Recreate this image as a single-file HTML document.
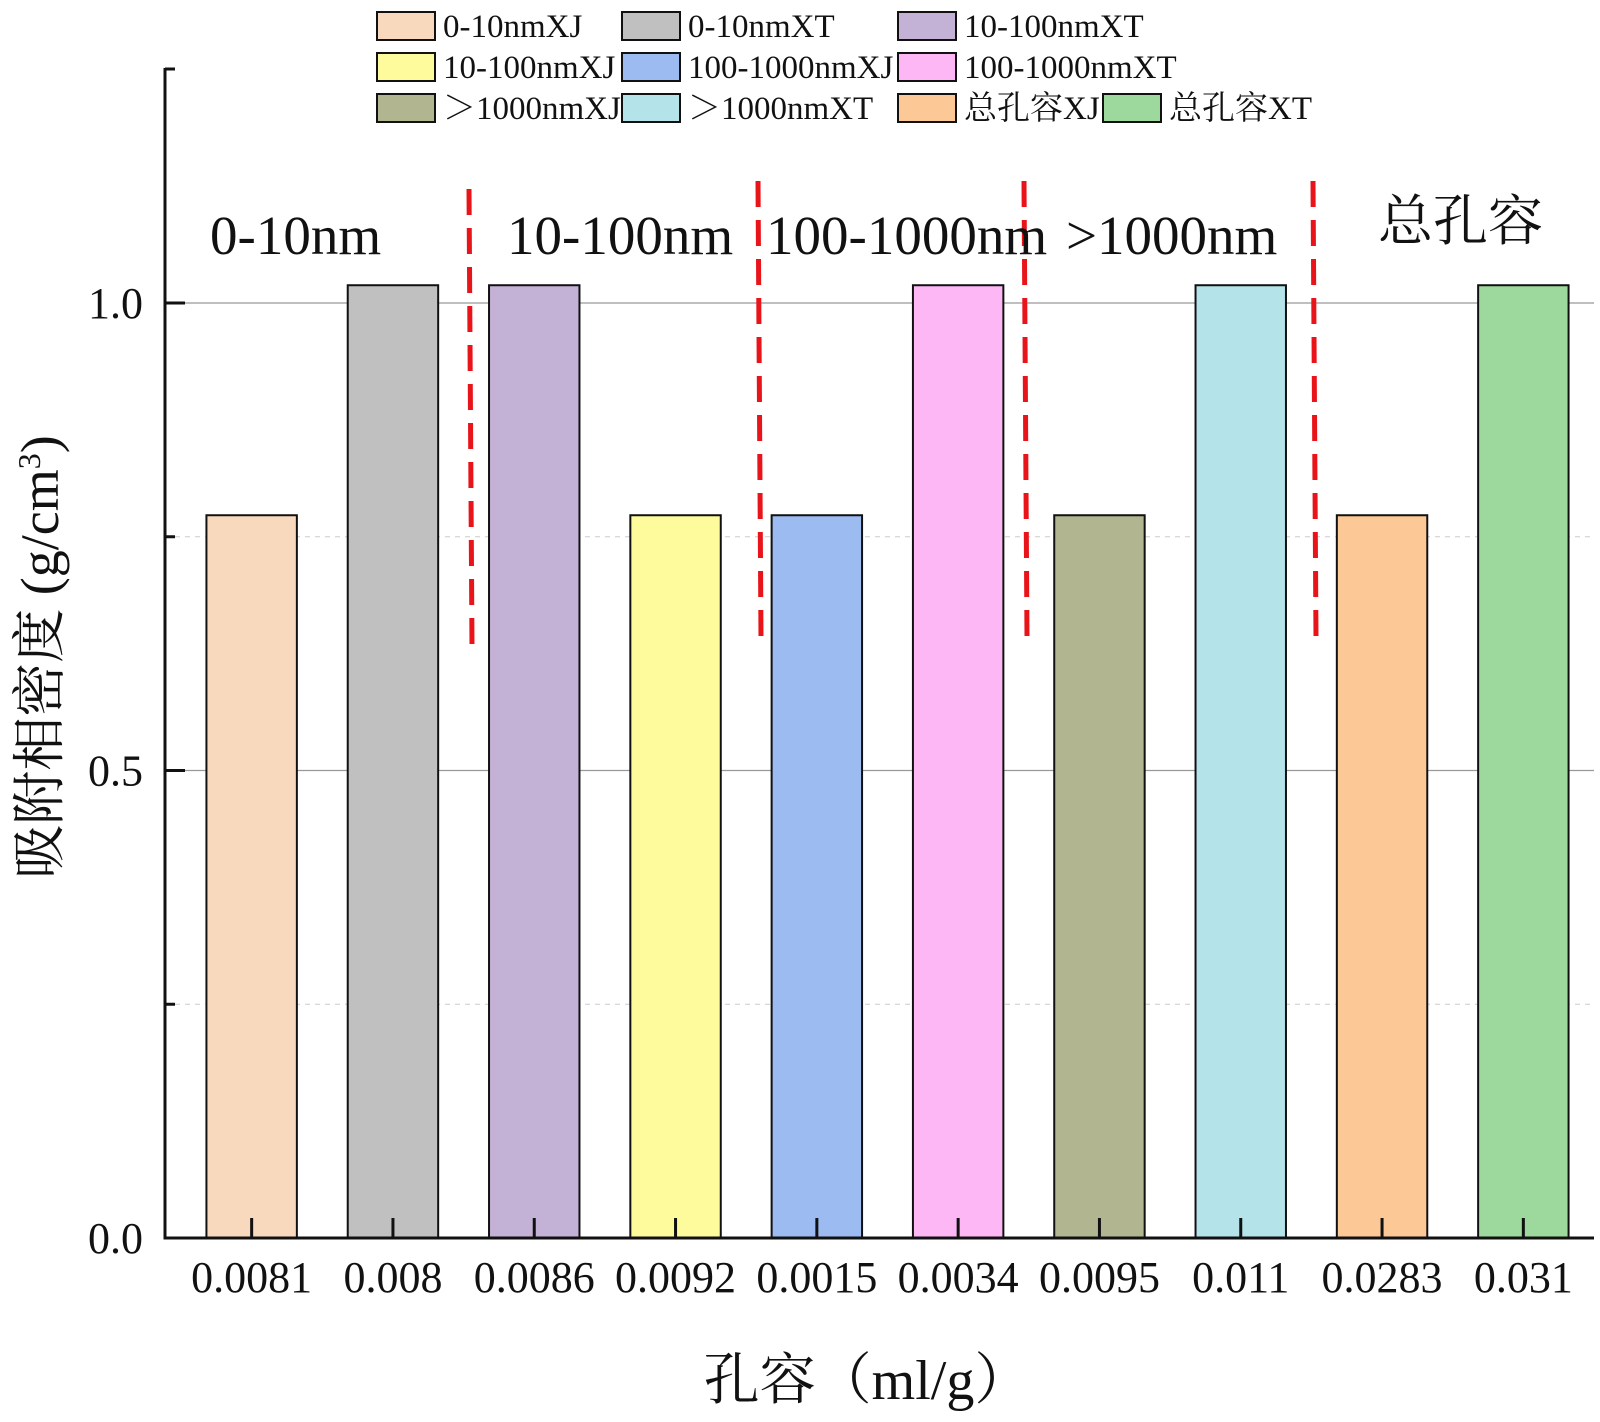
<!DOCTYPE html>
<html><head><meta charset="utf-8"><style>
body{margin:0;background:#fff}
svg text{font-family:"Liberation Serif","Noto Serif CJK SC",serif;fill:#111}
</style></head><body>
<svg id="c" width="1600" height="1417" xmlns="http://www.w3.org/2000/svg"></svg>
<script>
const categories=["0.0081","0.008","0.0086","0.0092","0.0015","0.0034","0.0095","0.011","0.0283","0.031"];
const values=[0.773,1.019,1.019,0.773,0.773,1.019,0.773,1.019,0.773,1.019];
const seriesNames=["0-10nmXJ","0-10nmXT","10-100nmXT","10-100nmXJ","100-1000nmXJ","100-1000nmXT",">1000nmXJ",">1000nmXT","总孔容XJ","总孔容XT"];
const colors=["#f9d9bd","#c0c0c0","#c4b2d6","#fdfb9c","#9cbbf1","#fdb7f5","#b1b690","#b4e3e9","#fbc896","#9dd89c"];
const yTicks=[0,0.5,1.0];
const yTickLabels=["0.0","0.5","1.0"];
const yMinor=[0.25,0.75];
const groupLabels=["0-10nm","10-100nm","100-1000nm",">1000nm","总孔容"];
const groupLabelX=[210,507,766,1066,1378];
const sepX=[469,758,1024,1313];

const NS="http://www.w3.org/2000/svg",svg=document.getElementById('c');
function el(t,a,txt){const e=document.createElementNS(NS,t);for(const k in a)e.setAttribute(k,a[k]);if(txt!=null)e.textContent=txt;svg.appendChild(e);return e;}
const X0=181,BW=141.3,BASE=1238,UNIT=935;
const xc=i=>X0+BW*(i+0.5);
const y=v=>BASE-v*UNIT;
yTicks.forEach(v=>{if(v>0){const g=el('line',{x1:165,x2:1594,y1:y(v),y2:y(v),stroke:'#999','stroke-width':1.2});
}});
yMinor.forEach(v=>{const g=el('line',{x1:165,x2:1594,y1:y(v),y2:y(v),stroke:'#ccc','stroke-width':1,'stroke-dasharray':'5,5'});
});
values.forEach((v,i)=>{const w=BW*0.64;const r=el('rect',{x:xc(i)-w/2,y:y(v),width:w,height:BASE-y(v),fill:colors[i],stroke:'#111','stroke-width':2});

const t=el('line',{x1:xc(i),x2:xc(i),y1:BASE,y2:BASE-20,stroke:'#111','stroke-width':3});

const l=el('text',{x:xc(i),y:1292,'font-size':44,'text-anchor':'middle'},categories[i]);
});
let a=el('line',{x1:165,x2:165,y1:68,y2:BASE+1.5,stroke:'#111','stroke-width':3});
a=el('line',{x1:163.5,x2:1594,y1:BASE,y2:BASE,stroke:'#111','stroke-width':3});
a=el('line',{x1:165,x2:175,y1:69,y2:69,stroke:'#111','stroke-width':3});
yTicks.forEach((v,i)=>{const t=el('line',{x1:165,x2:185,y1:y(v),y2:y(v),stroke:'#111','stroke-width':3});

const l=el('text',{x:143,y:y(v)+15,'font-size':44,'text-anchor':'end'},yTickLabels[i]);
});
yMinor.forEach(v=>{const t=el('line',{x1:165,x2:175,y1:y(v),y2:y(v),stroke:'#111','stroke-width':3});
});
const sepTop=[189,181,181,181];
sepX.forEach((sx,i)=>{const s=el('line',{x1:sx,x2:sx+3,y1:sepTop[i],y2:sepTop[i]+457,stroke:'#e8141a','stroke-width':5,'stroke-dasharray':'26,13'});
});
groupLabels.forEach((g,i)=>{const t=el('text',{x:groupLabelX[i],y:i==4?240:254,'font-size':55},g);
});
a=el('text',{x:867,y:1399,'font-size':56,'text-anchor':'middle'},'孔容（ml/g）');
a=el('text',{x:0,y:0,'font-size':54,'text-anchor':'middle',transform:'translate(58,657) rotate(-90)'});

a.innerHTML='吸附相密度 (g/cm<tspan dy="-18" font-size="32">3</tspan><tspan dy="18">)</tspan>';
const lx=[377,622,898,1103],ly=[26,67,108];
const order=[[0,0,0],[1,1,0],[2,2,0],[3,0,1],[4,1,1],[5,2,1],[6,0,2],[7,1,2],[8,2,2],[9,3,2]];
order.forEach(([i,c,r])=>{const sx=lx[c];const s=el('rect',{x:sx,y:ly[r]-14,width:58,height:28,fill:colors[i],stroke:'#111','stroke-width':2});

const t=el('text',{x:sx+66,y:ly[r]+11,'font-size':33},seriesNames[i].replace('>','＞'));
});
</script>
</body></html>
